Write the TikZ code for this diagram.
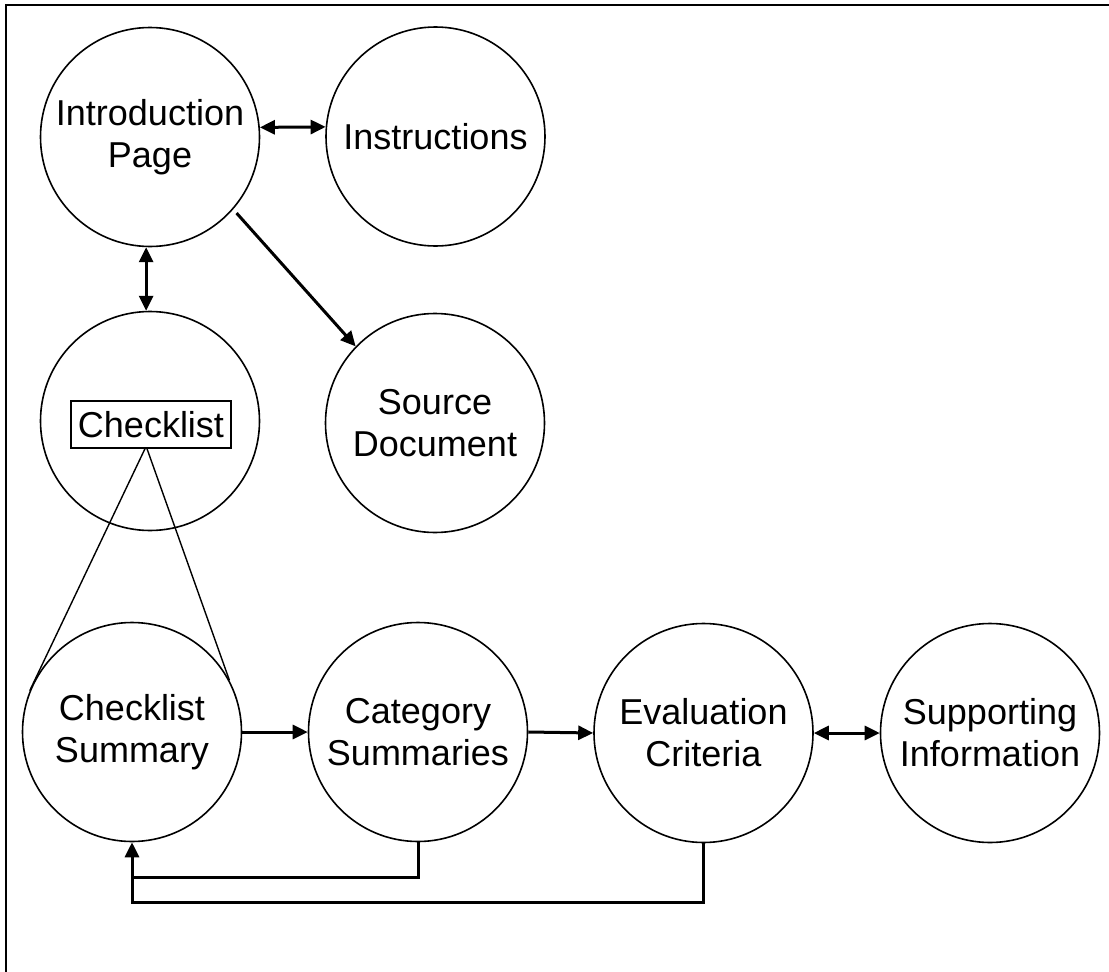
\documentclass[tikz,border=0pt]{standalone}
\usepackage{fontspec}
\setmainfont{Liberation Sans}
\usetikzlibrary{arrows.meta}
\begin{document}
\begin{tikzpicture}[x=1pt,y=-1pt,
  bubble/.style={circle,draw,line width=1.6pt,minimum size=219pt,inner sep=0pt,align=center,font=\fontsize{36}{42}\selectfont},
  boxlabel/.style={draw,line width=1.4pt,inner sep=0pt,minimum width=160pt,minimum height=47pt,font=\fontsize{36}{42}\selectfont},
  conn/.style={line width=3pt,-{Triangle[length=15pt,width=14pt]}},
  biconn/.style={line width=3pt,{Triangle[length=15pt,width=14pt]}-{Triangle[length=15pt,width=14pt]}},
  plain/.style={line width=3pt},
  thin/.style={line width=1.4pt},
  frame/.style={line width=1.8pt}]
\useasboundingbox (0,0) rectangle (1109,972);
\fill[white] (0,0) rectangle (1109,972);
% frame (only top and left edges visible)
\coordinate (ftl) at (6,5);
\coordinate (ftr) at (1109,5);
\coordinate (fbl) at (6,972);
\draw[frame] (fbl) -- (ftl) -- (ftr);
% nodes
\node[bubble] (intro) at (150,137) {Introduction\\Page};
\node[bubble] (instr) at (435.5,136.5) {Instructions};
\node[bubble] (check) at (150,421) {};
\node[boxlabel] (cbox) at (151,424.5) {Checklist};
\node[bubble] (source) at (435,423) {Source\\Document};
\node[bubble] (chksum) at (132,732) {Checklist\\Summary};
\node[bubble] (cat) at (418,732) {Category\\Summaries};
\node[bubble] (eval) at (703.5,733) {Evaluation\\Criteria};
\node[bubble] (supp) at (990,733) {Supporting\\Information};
% connectors
\draw[biconn] (intro.5) -- (instr.175);
\draw[biconn] (intro.-92) -- (check.92);
\draw[conn,shorten <=5pt] (intro.-41) -- (source.136);
\coordinate (apexL) at ([xshift=-6pt]cbox.south);
\coordinate (apexR) at ([xshift=-4pt]cbox.south);
\draw[thin] (apexL) -- (chksum.158);
\draw[thin] (apexR) -- (chksum.28);
\draw[conn] (chksum.east) -- (cat.west);
\draw[conn] (cat.east) -- (eval.west);
\draw[biconn] (eval.east) -- (supp.west);
\coordinate (fb1) at (132,877);
\coordinate (fb2) at (132,902);
\draw[plain] (cat.south) |- (fb1);
\draw[conn] (eval.south) |- (fb2) -- (chksum.south);
\end{tikzpicture}
\end{document}
